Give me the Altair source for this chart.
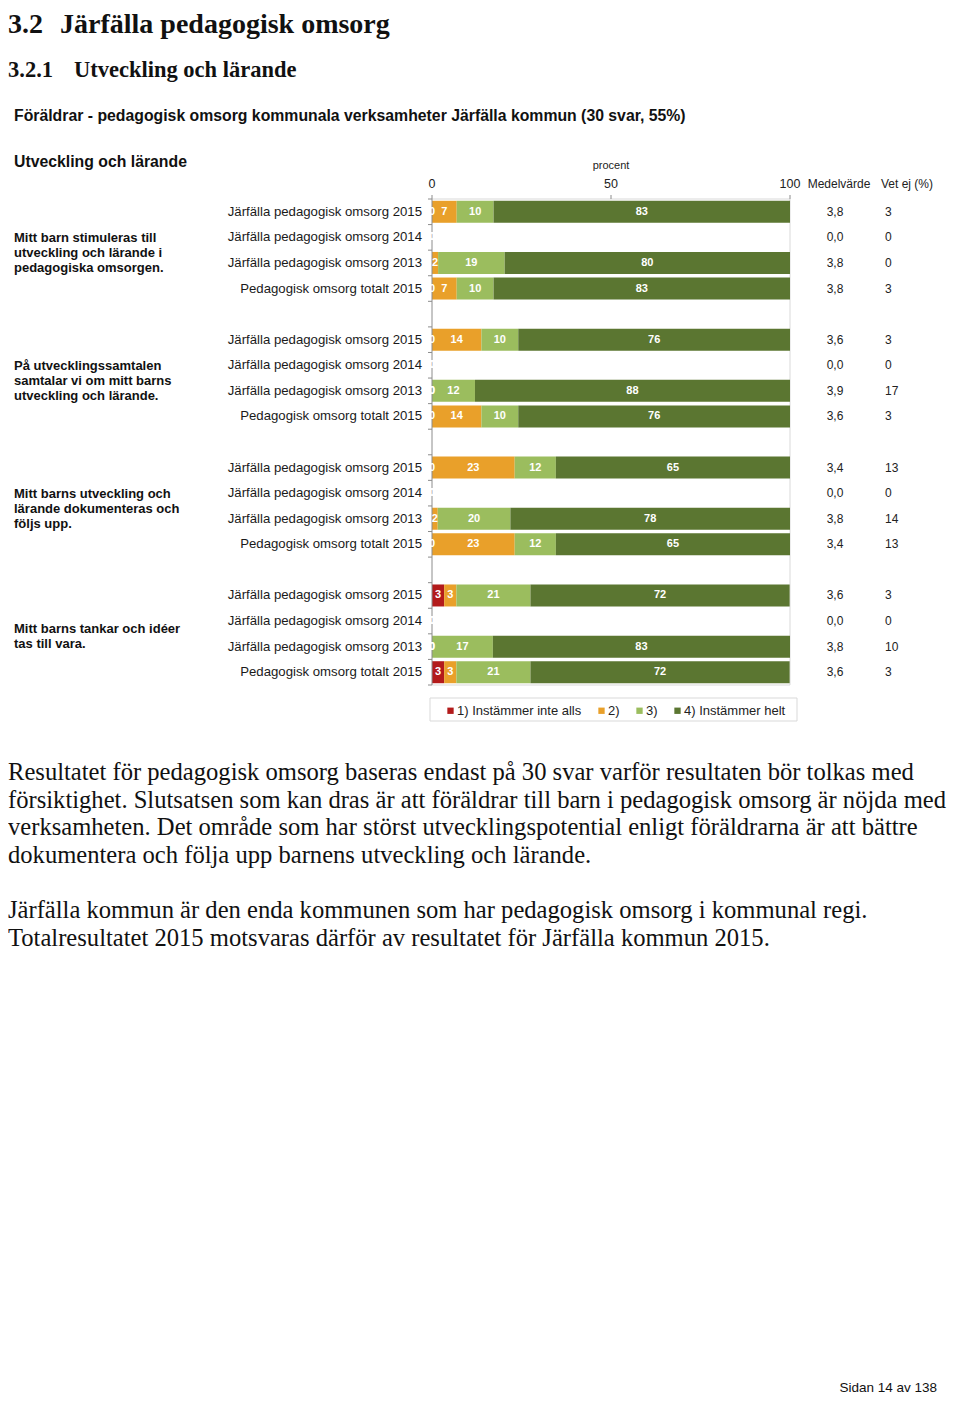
import altair as alt
import pandas as pd

W, H = 944, 1387
SANS = "Liberation Sans"
SERIF = "Liberation Serif"

# ---------------- data ----------------
categories = ["1) Instämmer inte alls", "2)", "3)", "4) Instämmer helt"]
cat_colors = ["#B31B1B", "#E9A02A", "#9BBD5E", "#5B7631"]

questions = [
    ["Mitt barn stimuleras till", "utveckling och lärande i", "pedagogiska omsorgen."],
    ["På utvecklingssamtalen", "samtalar vi om mitt barns", "utveckling och lärande."],
    ["Mitt barns utveckling och", "lärande dokumenteras och", "följs upp."],
    ["Mitt barns tankar och idéer", "tas till vara."],
]
row_names = [
    "Järfälla pedagogisk omsorg 2015",
    "Järfälla pedagogisk omsorg 2014",
    "Järfälla pedagogisk omsorg 2013",
    "Pedagogisk omsorg totalt 2015",
]
# percentages per row (labels show them rounded)
cat1 = [0, 0, 0, 0, 0, 0, 0, 0, 0, 0, 0, 0, 3.4, 0, 0, 3.4]
cat2 = [6.9, 0, 1.7, 6.9, 13.8, 0, 0, 13.8, 23.1, 0, 1.6, 23.1, 3.4, 0, 0, 3.4]
cat3 = [10.3, 0, 18.6, 10.3, 10.3, 0, 12.0, 10.3, 11.5, 0, 20.3, 11.5, 20.7, 0, 17.0, 20.7]
cat4 = [82.8, 0, 79.7, 82.8, 75.9, 0, 88.0, 75.9, 65.4, 0, 78.1, 65.4, 72.4, 0, 83.0, 72.4]
medel = ["3,8", "0,0", "3,8", "3,8", "3,6", "0,0", "3,9", "3,6",
         "3,4", "0,0", "3,8", "3,4", "3,6", "0,0", "3,8", "3,6"]
vetej = [3, 0, 0, 3, 3, 0, 17, 3, 13, 0, 14, 13, 3, 0, 10, 3]
x_ticks = [0, 50, 100]

para1 = [
    "Resultatet för pedagogisk omsorg baseras endast på 30 svar varför resultaten bör tolkas med",
    "försiktighet. Slutsatsen som kan dras är att föräldrar till barn i pedagogisk omsorg är nöjda med",
    "verksamheten. Det område som har störst utvecklingspotential enligt föräldrarna är att bättre",
    "dokumentera och följa upp barnens utveckling och lärande.",
]
para2 = [
    "Järfälla kommun är den enda kommunen som har pedagogisk omsorg i kommunal regi.",
    "Totalresultatet 2015 motsvaras därför av resultatet för Järfälla kommun 2015.",
]

# ---------------- tables ----------------
bar_rows, lab_rows, row_rows = [], [], []
for gi in range(4):
    for ri in range(4):
        k = gi * 4 + ri
        slot = gi * 5 + ri
        vals = [cat1[k], cat2[k], cat3[k], cat4[k]]
        nonzero = [v for v in vals if v > 0]
        show_zero = (not nonzero) or nonzero[0] >= 4
        s = 0
        for ci, v in enumerate(vals):
            rec = dict(slot=slot, cat=categories[ci], start=s, end=s + v,
                       mid=s + v / 2, val=v, yt=slot - 0.43, yb=slot + 0.43)
            bar_rows.append(rec)
            if v > 0 or show_zero:
                lab_rows.append(rec)
            s += v
        row_rows.append(dict(slot=slot, label=row_names[ri], medel=medel[k], vetej=str(vetej[k])))
bars_df = pd.DataFrame(bar_rows)
labs_df = pd.DataFrame(lab_rows)
rows_df = pd.DataFrame(row_rows)
bounds_df = pd.DataFrame({"b": [i - 0.5 for i in range(20)]})
ticks_df = pd.DataFrame({"v": x_ticks, "t": [str(v) for v in x_ticks]})
ylo, yhi = -0.5, 18.5
hframe_df = pd.DataFrame({"x0": [0, 0], "x1": [100, 100], "y": [ylo, yhi]})
vframe_df = pd.DataFrame({"x": [100], "y0": [ylo], "y1": [yhi]})
vaxis_df = pd.DataFrame({"x": [0], "y0": [ylo], "y1": [yhi]})
one = alt.Data(values=[{"a": 1}])

xs = alt.Scale(domain=[0, 100], range=[424, 782], nice=False, zero=False, clamp=True)
ys = alt.Scale(domain=[ylo, yhi], range=[191, 677], nice=False, zero=False)


def txt(text, x, y, size, bold=False, font=SANS, align="left", baseline="alphabetic",
        color="#111", lh=None):
    kw = dict(text=text, font=font, fontSize=size, fontWeight="bold" if bold else "normal",
              align=align, baseline=baseline, color=color)
    if lh is not None:
        kw["lineHeight"] = lh
    return alt.Chart(one).mark_text(**kw).encode(x=alt.value(x), y=alt.value(y))


layers = []

# page headings
layers.append(txt("3.2", 0, 25, 28, bold=True, font=SERIF))
layers.append(txt("Järfälla pedagogisk omsorg", 52, 25, 28, bold=True, font=SERIF))
layers.append(txt("3.2.1", 0, 69, 22.5, bold=True, font=SERIF))
layers.append(txt("Utveckling och lärande", 66, 69, 22.5, bold=True, font=SERIF))

# chart titles
layers.append(txt("Föräldrar - pedagogisk omsorg kommunala verksamheter Järfälla kommun (30 svar, 55%)",
                  6, 108, 15.8, bold=True, baseline="middle"))
layers.append(txt("Utveckling och lärande", 6, 154, 15.8, bold=True, baseline="middle"))

# axis header texts
layers.append(txt("procent", 603, 158, 11, align="center", baseline="middle", color="#222"))
layers.append(txt("Medelvärde", 831, 176, 12, align="center", baseline="middle", color="#222"))
layers.append(txt("Vet ej (%)", 873, 176, 12, align="left", baseline="middle", color="#222"))
layers.append(
    alt.Chart(ticks_df).mark_text(font=SANS, fontSize=12.5, color="#222", baseline="middle")
    .encode(x=alt.X("v:Q", scale=xs, axis=None), y=alt.value(176), text="t:N")
)

# frame (light)
frame_col = "#D9D9D9"
layers.append(alt.Chart(hframe_df).mark_rule(color=frame_col, strokeWidth=1).encode(
    x=alt.X("x0:Q", scale=xs, axis=None), x2="x1:Q", y=alt.Y("y:Q", scale=ys, axis=None)))
layers.append(alt.Chart(vframe_df).mark_rule(color=frame_col, strokeWidth=1).encode(
    x=alt.X("x:Q", scale=xs, axis=None), y=alt.Y("y0:Q", scale=ys, axis=None), y2="y1:Q"))

# bars
layers.append(
    alt.Chart(bars_df).mark_rect().encode(
        x=alt.X("start:Q", scale=xs, axis=None), x2="end:Q",
        y=alt.Y("yt:Q", scale=ys, axis=None), y2="yb:Q",
        color=alt.Color("cat:N", scale=alt.Scale(domain=categories, range=cat_colors),
                        legend=alt.Legend(orient="none", legendX=436, legendY=696,
                                          direction="horizontal", title=None,
                                          symbolType="square", symbolSize=40,
                                          symbolStrokeWidth=0, labelFont=SANS,
                                          labelFontSize=13, labelColor="#222",
                                          columnPadding=13, labelOffset=0, padding=0)),
    )
)

# legend frame
layers.append(alt.Chart(one).mark_rect(fill="transparent", stroke=frame_col, strokeWidth=1).encode(
    x=alt.value(422), x2=alt.value(789), y=alt.value(690), y2=alt.value(713)))

# left axis with ticks
axis_col = "#8C8C8C"
layers.append(alt.Chart(vaxis_df).mark_rule(color=axis_col, strokeWidth=1).encode(
    x=alt.X("x:Q", scale=xs, axis=None), y=alt.Y("y0:Q", scale=ys, axis=None), y2="y1:Q"))
layers.append(alt.Chart(bounds_df).mark_rule(color=axis_col, strokeWidth=1).encode(
    x=alt.value(420), x2=alt.value(424), y=alt.Y("b:Q", scale=ys, axis=None)))
layers.append(alt.Chart(ticks_df).mark_rule(color=axis_col, strokeWidth=1).encode(
    x=alt.X("v:Q", scale=xs, axis=None), y=alt.value(187), y2=alt.value(191)))

# bar value labels
layers.append(
    alt.Chart(labs_df).mark_text(font=SANS, fontSize=11, fontWeight="bold", color="white",
                                 baseline="middle").encode(
        x=alt.X("mid:Q", scale=xs, axis=None),
        y=alt.Y("slot:Q", scale=ys, axis=None),
        text=alt.Text("val:Q", format=".0f"),
    )
)

# row labels and side columns
layers.append(alt.Chart(rows_df).mark_text(font=SANS, fontSize=13.2, color="#1a1a1a", align="right",
                                           baseline="middle").encode(
    x=alt.value(414), y=alt.Y("slot:Q", scale=ys, axis=None), text="label:N"))
layers.append(alt.Chart(rows_df).mark_text(font=SANS, fontSize=12, color="#222", align="center",
                                           baseline="middle").encode(
    x=alt.value(827), y=alt.Y("slot:Q", scale=ys, axis=None), text="medel:N"))
layers.append(alt.Chart(rows_df).mark_text(font=SANS, fontSize=12, color="#222", align="left",
                                           baseline="middle").encode(
    x=alt.value(877), y=alt.Y("slot:Q", scale=ys, axis=None), text="vetej:N"))

# question group labels
QLH = 14.8
for gi, lines in enumerate(questions):
    gdf = pd.DataFrame({"c": [gi * 5 + 1.5]})
    layers.append(alt.Chart(gdf).mark_text(text=lines, font=SANS, fontSize=13, fontWeight="bold",
                                           color="#111", align="left", baseline="middle",
                                           lineHeight=QLH, dy=3 - (len(lines) - 1) / 2 * QLH).encode(
        x=alt.value(6), y=alt.Y("c:Q", scale=ys, axis=None)))

# body paragraphs
layers.append(txt(para1, 0, 772, 24.6, font=SERIF, lh=27.7))
layers.append(txt(para2, 0, 910, 24.6, font=SERIF, lh=27.7))

# footer
layers.append(txt("Sidan 14 av 138", 929, 1384, 13.5, align="right", color="#111"))

chart = alt.layer(*layers).properties(
    width=W, height=H, autosize=alt.AutoSizeParams(type="none"), padding=0
).configure_view(stroke=None)

chart.save("out.html", embed_options={"renderer": "svg", "actions": False})
